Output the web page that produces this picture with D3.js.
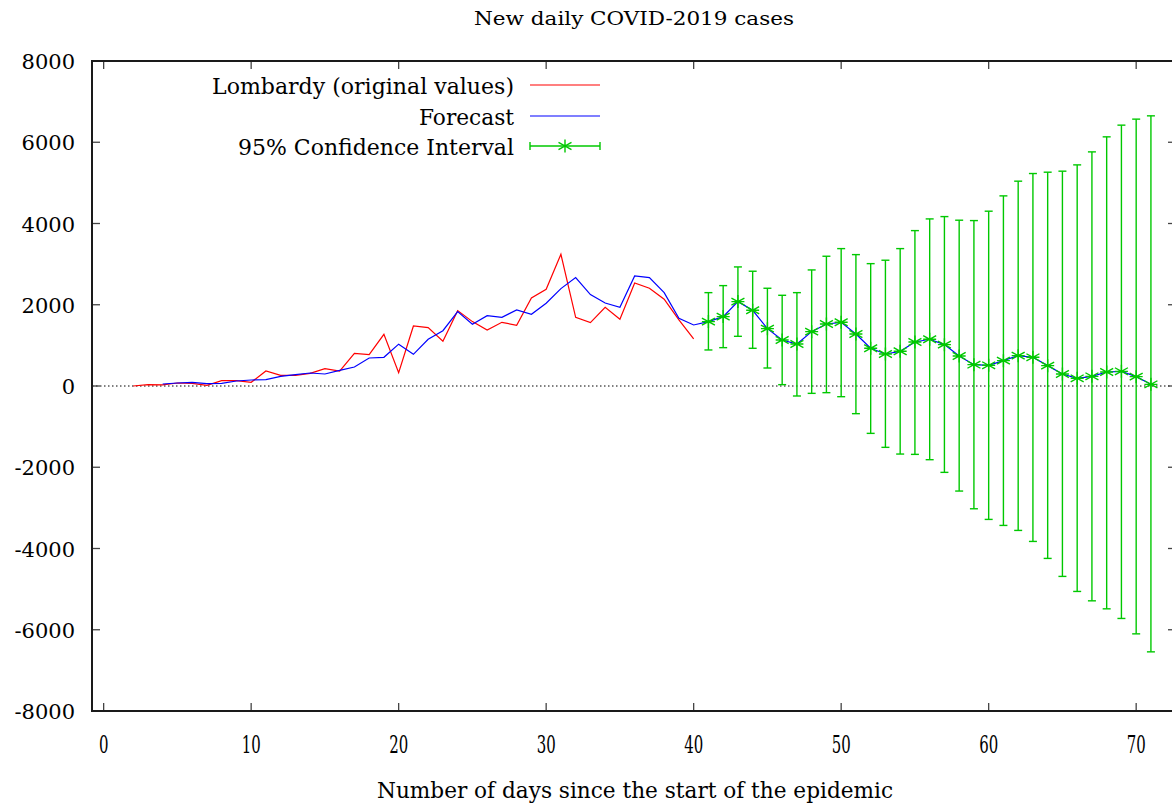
<!DOCTYPE html>
<html><head><meta charset="utf-8">
<script src="https://cdn.jsdelivr.net/npm/d3@7"></script>
<style>
html,body{margin:0;padding:0;background:#fff;overflow:hidden}
text{font-family:"DejaVu Serif",serif;fill:#000}
</style></head>
<body>
<svg id="chart" width="1172" height="805"></svg>
<script>
// ---- data ----
const titleText = "New daily COVID-2019 cases";
const xLabelText = "Number of days since the start of the epidemic";
const seriesNames = ["Lombardy (original values)", "Forecast", "95% Confidence Interval"];
const xTicks = [0, 10, 20, 30, 40, 50, 60, 70];
const yTicks = [-8000, -6000, -4000, -2000, 0, 2000, 4000, 6000, 8000];

const redDays = d3.range(2, 41);
const redValues = [0, 33, 27, 74, 66, 17, 131, 131, 90, 369, 263, 263, 312, 427, 369, 805, 772, 1273, 328,
  1478, 1437, 1100, 1855, 1585, 1379, 1568, 1494, 2167, 2381, 3243, 1691, 1560, 1938, 1642, 2537, 2406, 2135, 1626, 1158];

const blueDays = d3.range(4, 72);
const blueValues = [49, 74, 90, 57, 66, 123, 148, 156, 238, 279, 320, 296, 386, 468, 690, 706, 1030,
  780, 1150, 1362, 1831, 1519, 1732, 1691, 1872, 1765, 2036, 2397, 2668, 2249, 2044, 1938, 2709, 2668, 2299, 1667, 1502,
  1585, 1708, 2077, 1864, 1412, 1133, 1034, 1338, 1527, 1568, 1281, 928, 788, 854, 1084, 1150, 1018, 739, 525, 509,
  624, 747, 706, 501, 296, 189, 238, 345, 361, 230, 41];

const ciDays = d3.range(41, 72);
const ciUpper = [2298, 2471, 2931, 2825, 2406, 2233, 2298, 2857, 3194, 3382, 3234, 3012, 3096, 3382, 3825, 4113, 4170,
  4081, 4072, 4303, 4680, 5042, 5230, 5263, 5288, 5443, 5763, 6133, 6421, 6569, 6650];
const ciLower = [887, 944, 1223, 928, 443, 33, -246, -181, -164, -263, -681, -1166, -1510, -1675, -1683, -1814, -2126,
  -2586, -3022, -3284, -3432, -3555, -3826, -4244, -4687, -5057, -5288, -5485, -5722, -6101, -6544];

// ---- drawing ----
const svg = d3.select("#chart");
const L = 92, R = 1176, T = 61, B = 711;
const x = d3.scaleLinear().domain([-0.79, 72.7]).range([L, R]);
const y = d3.scaleLinear().domain([-8000, 8000]).range([B, T]);

const red = "#ff0000", blue = "#0000ff", green = "#00c800";

// zero line
svg.append("line").attr("x1", L).attr("x2", R).attr("y1", y(0)).attr("y2", y(0))
  .attr("stroke", "#000").attr("stroke-width", 1).attr("stroke-dasharray", "1.5,2.5");

// ticks (mirrored on all sides)
const tk = 8, tickColor = "#444";
const g = svg.append("g");
xTicks.forEach(v => {
  g.append("line").attr("x1", x(v)).attr("x2", x(v)).attr("y1", B).attr("y2", B - tk).attr("stroke", tickColor).attr("stroke-width", 1.3);
  g.append("line").attr("x1", x(v)).attr("x2", x(v)).attr("y1", T).attr("y2", T + tk).attr("stroke", tickColor).attr("stroke-width", 1.3);
  g.append("text").attr("x", x(v)).attr("y", 745).attr("text-anchor", "middle").attr("dominant-baseline", "central")
    .attr("font-size", 24).attr("textLength", String(v).length * 9.5).attr("lengthAdjust", "spacingAndGlyphs").text(v);
});
yTicks.forEach(v => {
  g.append("line").attr("x1", L).attr("x2", L + tk).attr("y1", y(v)).attr("y2", y(v)).attr("stroke", tickColor).attr("stroke-width", 1.3);
  g.append("line").attr("x1", R).attr("x2", R - tk).attr("y1", y(v)).attr("y2", y(v)).attr("stroke", tickColor).attr("stroke-width", 1.3);
  g.append("text").attr("x", 75).attr("y", y(v) + 1).attr("text-anchor", "end").attr("dominant-baseline", "central")
    .attr("font-size", 21).text(v);
});

// lines
const line = d3.line().x(d => x(d[0])).y(d => y(d[1]));
svg.append("path").datum(redDays.map((d, i) => [d, redValues[i]])).attr("d", line)
  .attr("fill", "none").attr("stroke", red).attr("stroke-width", 1.2);
svg.append("path").datum(blueDays.map((d, i) => [d, blueValues[i]])).attr("d", line)
  .attr("fill", "none").attr("stroke", blue).attr("stroke-width", 1.2);

// confidence intervals
const cap = 4, ms = 6.5;
const ci = svg.append("g").attr("stroke", green).attr("stroke-width", 1.4);
ciDays.forEach((d, i) => {
  const cx = x(d), yl = y(ciLower[i]), yu = y(ciUpper[i]);
  const fi = blueDays.indexOf(d), cy = y(blueValues[fi]);
  ci.append("line").attr("x1", cx).attr("x2", cx).attr("y1", yl).attr("y2", yu);
  ci.append("line").attr("x1", cx - cap).attr("x2", cx + cap).attr("y1", yl).attr("y2", yl);
  ci.append("line").attr("x1", cx - cap).attr("x2", cx + cap).attr("y1", yu).attr("y2", yu);
  ci.append("path").attr("d", `M${cx - ms},${cy - ms * 0.55}L${cx + ms},${cy + ms * 0.55}M${cx - ms},${cy + ms * 0.55}L${cx + ms},${cy - ms * 0.55}M${cx},${cy - ms}L${cx},${cy + ms}M${cx - ms},${cy}L${cx + ms},${cy}`);
});

// border
svg.append("rect").attr("x", L).attr("y", T).attr("width", R - L).attr("height", B - T)
  .attr("fill", "none").attr("stroke", "#1a1a1a").attr("stroke-width", 2);

// legend
const legY = [85, 116, 146], legTextX = 514, lx1 = 530, lx2 = 600;
const legWidths = [302, 95, 276];
seriesNames.forEach((n, i) => {
  svg.append("text").attr("x", legTextX).attr("y", legY[i] + 1).attr("text-anchor", "end").attr("dominant-baseline", "central")
    .attr("font-size", 22).attr("textLength", legWidths[i]).attr("lengthAdjust", "spacingAndGlyphs").text(n);
});
svg.append("line").attr("x1", lx1).attr("x2", lx2).attr("y1", legY[0]).attr("y2", legY[0]).attr("stroke", red).attr("stroke-width", 1.2);
svg.append("line").attr("x1", lx1).attr("x2", lx2).attr("y1", legY[1]).attr("y2", legY[1]).attr("stroke", blue).attr("stroke-width", 1.2);
const lg = svg.append("g").attr("stroke", green).attr("stroke-width", 1.4);
lg.append("line").attr("x1", lx1).attr("x2", lx2).attr("y1", legY[2]).attr("y2", legY[2]);
lg.append("line").attr("x1", lx1).attr("x2", lx1).attr("y1", legY[2] - cap).attr("y2", legY[2] + cap);
lg.append("line").attr("x1", lx2).attr("x2", lx2).attr("y1", legY[2] - cap).attr("y2", legY[2] + cap);
{
  const cx = (lx1 + lx2) / 2, cy = legY[2];
  lg.append("path").attr("d", `M${cx - ms},${cy - ms * 0.55}L${cx + ms},${cy + ms * 0.55}M${cx - ms},${cy + ms * 0.55}L${cx + ms},${cy - ms * 0.55}M${cx},${cy - ms}L${cx},${cy + ms}`);
}

// title and axis label
svg.append("text").attr("x", 634).attr("y", 18).attr("text-anchor", "middle").attr("dominant-baseline", "central")
  .attr("font-size", 19).attr("textLength", 320).attr("lengthAdjust", "spacingAndGlyphs").text(titleText);
svg.append("text").attr("x", 635).attr("y", 790).attr("text-anchor", "middle").attr("dominant-baseline", "central")
  .attr("font-size", 23).attr("textLength", 516).attr("lengthAdjust", "spacingAndGlyphs").text(xLabelText);
</script>
</body></html>
